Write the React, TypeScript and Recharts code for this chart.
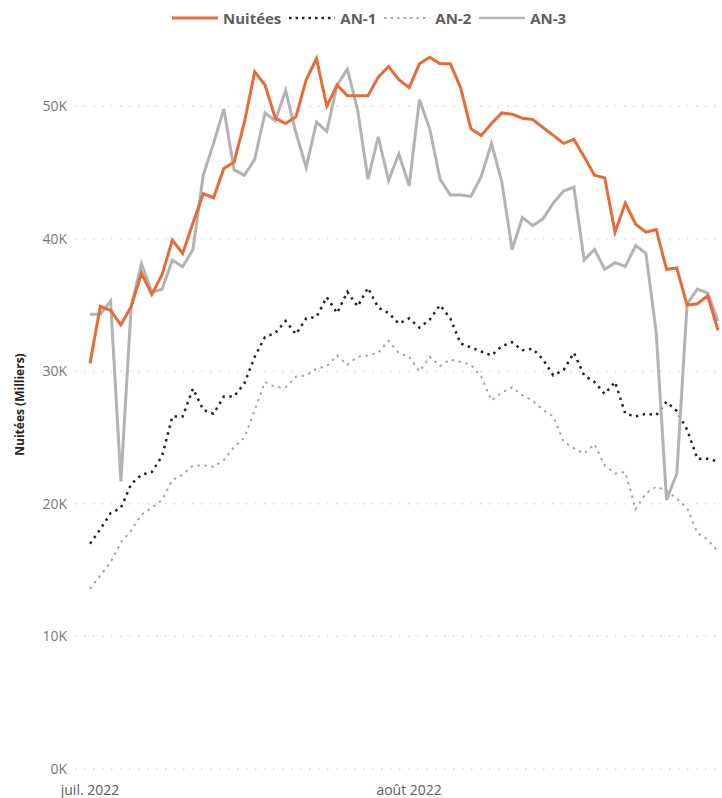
import React from "react";
import { LineChart, Line, XAxis, YAxis, CartesianGrid } from "recharts";

// one point per day, 1 July -> 31 August 2022
const pad = (n: number) => (n < 10 ? "0" + n : "" + n);
const days: string[] = [
  ...Array.from({ length: 31 }, (_, i) => `2022-07-${pad(i + 1)}`),
  ...Array.from({ length: 31 }, (_, i) => `2022-08-${pad(i + 1)}`),
];

const xTicks = ["2022-07-01", "2022-08-01"];
const yTicks = [0, 10, 20, 30, 40, 50];
const monthNames: Record<string, string> = { "07": "juil.", "08": "août" };

// values in thousands (Milliers)
const nuitees = [
  30.6, 34.9, 34.6, 33.5, 34.9, 37.4, 35.8, 37.3, 39.9, 38.9, 41.2, 43.4, 43.1, 45.3, 45.8, 48.8,
  52.6, 51.6, 49.1, 48.7, 49.2, 52.0, 53.6, 50.0, 51.6, 50.8, 50.8, 50.8, 52.2, 53.0, 52.0,
  51.4, 53.2, 53.7, 53.2, 53.2, 51.4, 48.3, 47.8, 48.7, 49.5, 49.4, 49.1, 49.0, 48.4, 47.8,
  47.2, 47.5, 46.2, 44.8, 44.6, 40.5, 42.7, 41.1, 40.5, 40.7, 37.7, 37.8, 35.0, 35.1, 35.7, 33.1,
];

const an1 = [
  17.0, 18.1, 19.3, 19.7, 21.5, 22.2, 22.4, 23.6, 26.6, 26.6, 28.7, 27.1, 26.8, 28.1, 28.1, 29.1,
  31.1, 32.6, 32.9, 33.8, 32.8, 34.0, 34.1, 35.6, 34.4, 36.0, 34.9, 36.3, 34.8, 34.4, 33.6,
  34.0, 33.3, 33.9, 35.0, 34.0, 32.1, 31.8, 31.5, 31.2, 31.9, 32.2, 31.6, 31.7, 30.9, 29.7,
  30.1, 31.4, 29.7, 29.2, 28.3, 29.2, 26.8, 26.6, 26.8, 26.7, 27.7, 27.0, 25.6, 23.4, 23.4, 23.2,
];

const an2 = [
  13.6, 14.6, 15.6, 17.1, 18.0, 19.2, 19.7, 20.3, 21.8, 22.2, 22.9, 22.9, 22.8, 23.3, 24.3, 25.0,
  27.1, 29.2, 28.8, 28.8, 29.6, 29.7, 30.2, 30.4, 31.2, 30.5, 31.1, 31.2, 31.4, 32.3, 31.4,
  31.1, 30.0, 31.1, 30.4, 30.9, 30.7, 30.5, 29.6, 27.8, 28.4, 28.8, 28.2, 27.8, 27.1, 26.6,
  24.7, 24.2, 23.8, 24.5, 22.9, 22.3, 22.4, 19.6, 20.8, 21.3, 21.0, 20.4, 19.7, 17.8, 17.3, 16.4,
];

const an3 = [
  34.3, 34.3, 35.3, 21.7, 34.9, 38.1, 36.0, 36.2, 38.4, 37.9, 39.2, 44.8, 47.2, 49.8, 45.2, 44.8,
  46.0, 49.5, 48.9, 51.2, 48.0, 45.4, 48.8, 48.1, 51.6, 52.8, 49.7, 44.5, 47.7, 44.4, 46.4,
  44.0, 50.5, 48.3, 44.5, 43.3, 43.3, 43.2, 44.7, 47.2, 44.3, 39.2, 41.6, 41.0, 41.5, 42.7,
  43.6, 43.9, 38.4, 39.2, 37.7, 38.2, 37.9, 39.5, 38.9, 32.9, 20.3, 22.3, 35.1, 36.2, 35.9, 33.8,
];

const rows = days.map((day, i) => ({
  day,
  nuitees: nuitees[i],
  an1: an1[i],
  an2: an2[i],
  an3: an3[i],
}));

const FONT = "'Open Sans', 'Noto Sans', sans-serif";
const ORANGE = "#E66C37";
const GREY = "#B3B3B3";
const DARK = "#252423";
const MID = "#A6A6A6";

const legendItems = [
  { label: "Nuitées", color: ORANGE, dash: undefined, width: 3 },
  { label: "AN-1", color: DARK, dash: "2.5 4", width: 2.5 },
  { label: "AN-2", color: MID, dash: "2.5 4", width: 2 },
  { label: "AN-3", color: GREY, dash: undefined, width: 2.5 },
];

const formatDay = (d: string) => {
  const parts = d.split("-");
  return `${monthNames[parts[1]]} ${parts[0]}`;
};

const YTitle = (props: any) => {
  const vb = props.viewBox || { x: 0, y: 0, height: 0 };
  const cx = 19;
  const cy = vb.y + vb.height / 2;
  return (
    <text
      x={cx}
      y={cy}
      transform={`rotate(-90, ${cx}, ${cy})`}
      textAnchor="middle"
      dominantBaseline="central"
      fill={DARK}
      fontSize={12}
      fontWeight={700}
      fontFamily={FONT}
    >
      Nuitées (Milliers)
    </text>
  );
};

const ChartLegend = () => (
  <div
    style={{
      position: "absolute",
      top: 6,
      left: 172,
      display: "flex",
      alignItems: "center",
      fontFamily: FONT,
      fontWeight: 700,
      fontSize: 15,
      color: "#605E5C",
      whiteSpace: "nowrap",
    }}
  >
    {legendItems.map((it) => (
      <div key={it.label} style={{ display: "flex", alignItems: "center", marginRight: 8 }}>
        <svg width={46} height={24} style={{ marginRight: 5 }}>
          <line
            x1={0}
            y1={12}
            x2={46}
            y2={12}
            stroke={it.color}
            strokeWidth={it.width}
            strokeDasharray={it.dash}
          />
        </svg>
        <span>{it.label}</span>
      </div>
    ))}
  </div>
);

export default function App() {
  return (
    <div
      style={{
        position: "absolute",
        left: 0,
        top: 0,
        width: 722,
        height: 798,
        background: "#fff",
        overflow: "hidden",
      }}
    >
      <ChartLegend />
      <LineChart
        width={722}
        height={798}
        data={rows}
        margin={{ top: 40, right: 0, bottom: 0, left: 0 }}
      >
        <CartesianGrid
          vertical={false}
          horizontalValues={yTicks}
          stroke="#C8C8C8"
          strokeDasharray="1.5 7.5"
        />
        <XAxis
          dataKey="day"
          ticks={xTicks}
          interval={0}
          tickFormatter={formatDay}
          axisLine={false}
          tickLine={false}
          tickSize={8}
          tickMargin={8}
          height={29}
          padding={{ left: 15, right: 4 }}
          tick={{ fill: "#605E5C", fontSize: 14, fontFamily: FONT }}
        />
        <YAxis
          domain={[0, 55]}
          ticks={yTicks}
          allowDataOverflow
          width={75}
          axisLine={false}
          tickLine={false}
          tickFormatter={(v: number) => `${v}K`}
          tick={{ fill: "#777777", fontSize: 14, fontFamily: FONT }}
          label={<YTitle />}
        />
        <Line
          type="linear"
          dataKey="an2"
          stroke={MID}
          strokeWidth={2}
          strokeDasharray="2.5 4.5"
          dot={false}
          activeDot={false}
          isAnimationActive={false}
        />
        <Line
          type="linear"
          dataKey="an1"
          stroke={DARK}
          strokeWidth={2.5}
          strokeDasharray="2.5 4.5"
          dot={false}
          activeDot={false}
          isAnimationActive={false}
        />
        <Line
          type="linear"
          dataKey="an3"
          stroke={GREY}
          strokeWidth={3}
          dot={false}
          activeDot={false}
          isAnimationActive={false}
        />
        <Line
          type="linear"
          dataKey="nuitees"
          stroke={ORANGE}
          strokeWidth={3}
          dot={false}
          activeDot={false}
          isAnimationActive={false}
        />
      </LineChart>
    </div>
  );
}
